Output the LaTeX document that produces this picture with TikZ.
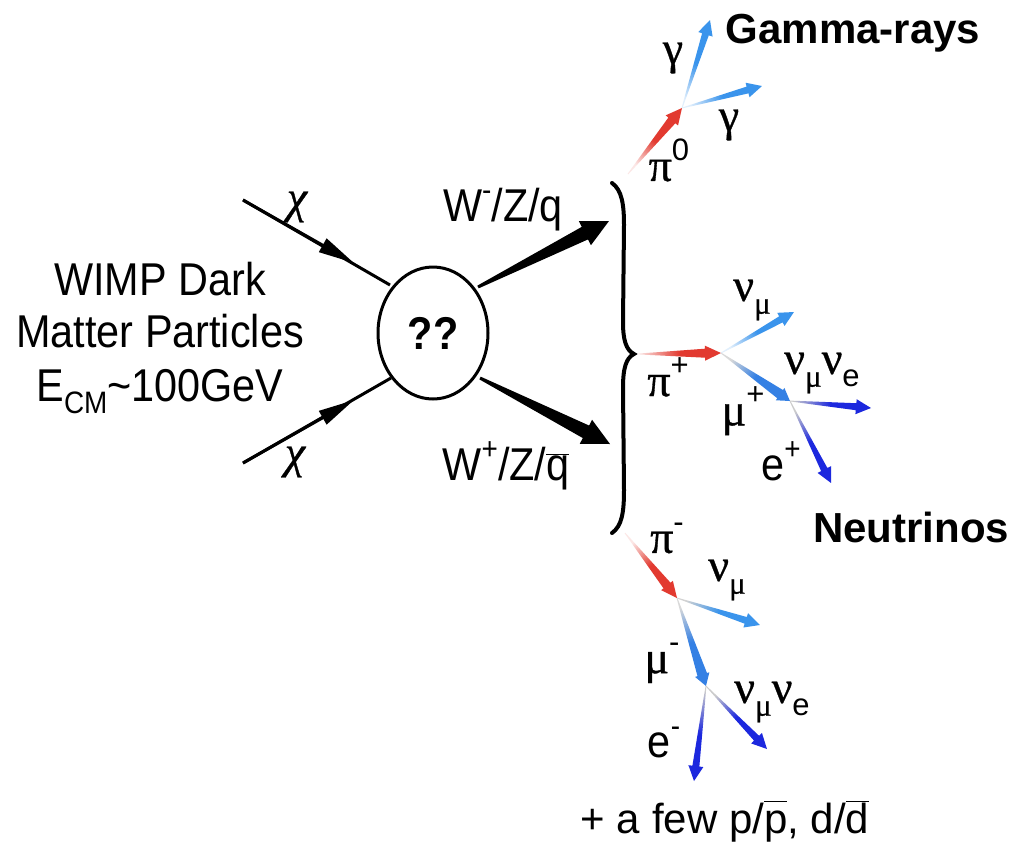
\documentclass[tikz,border=0pt]{standalone}
\usepackage{fontspec}
\setmainfont{Liberation Sans}
\newfontfamily\grk[FakeBold=0.7]{Liberation Serif}
\newfontfamily\grki[FakeBold=0.7]{Liberation Serif Italic}
\usetikzlibrary{arrows.meta,shapes.geometric,calc}

\definecolor{pired}{RGB}{226,58,48}
\definecolor{nublue}{RGB}{58,148,236}
\definecolor{mublue}{RGB}{52,128,228}
\definecolor{eblue}{RGB}{28,40,222}

\newcommand\sx[2][0.9]{\scalebox{#1}[1]{#2}}
\newcommand\gk[1]{{\grk #1}}
\newcommand\gki[1]{{\grki #1}}
\newcommand\upx[1]{\raisebox{0.45em}{\fontsize{31}{31}\selectfont #1}}
\newcommand\dnx[1]{\raisebox{-0.28em}{\fontsize{31}{31}\selectfont #1}}

\newcommand\setarrow[4]{\def\tsw{#1}\def\tbw{#2}\def\thw{#3}\def\thl{#4}}
% #1 from, #2 to, #3 strong colour, #4 faded colour
\newcommand\tarrow[4]{%
  \pgfpointdiff{\pgfpointanchor{#1}{center}}{\pgfpointanchor{#2}{center}}%
  \pgfgetlastxy{\tdx}{\tdy}%
  \pgfmathsetmacro\tlen{veclen(\tdx,\tdy)}%
  \pgfmathsetmacro\tang{atan2(\tdy,\tdx)}%
  \pgfmathsetmacro\tsang{\tang+90}%
  \pgfmathsetmacro\tbase{\tlen-\thl}%
  \shade[top color=#4, bottom color=#3, middle color=#3, shading angle=\tsang,
         shift={(#1)}, rotate=\tang, x=1pt, y=1pt]
    (0,-\tsw) -- (\tbase,-\tbw) -- (\tbase,-\thw) -- (\tlen,0)
    -- (\tbase,\thw) -- (\tbase,\tbw) -- (0,\tsw) -- cycle;
}

\tikzset{
  txt/.style={inner sep=0pt, font=\fontsize{46}{50}\selectfont},
  boldtxt/.style={inner sep=0pt, font=\fontsize{42}{48}\selectfont\bfseries},
  glbl/.style={inner sep=0pt, font=\fontsize{46}{50}\selectfont},
  blob/.style={ellipse, draw, line width=3pt, minimum width=110pt,
               minimum height=132pt, inner sep=0pt},
  chiline/.style={line width=3pt},
  chihead/.style={line width=3pt, -{Triangle[length=36pt,width=15pt]}},
}

\begin{document}
\begin{tikzpicture}[x=1pt,y=-1pt]
\useasboundingbox (0,0) rectangle (1018,847);
\fill[white] (0,0) rectangle (1018,847);

% left text
\node[txt, anchor=base] (t1) at (160,295) {\sx{WIMP Dark}};
\node[txt, anchor=base] (t2) at (160,347) {\sx{Matter Particles}};
\node[txt, anchor=base] (t3) at (160,401) {\sx{E\dnx{CM}\textasciitilde100GeV}};

% central blob
\node[blob] (blob) at (433,333) {\fontsize{46}{50}\selectfont\bfseries\sx{??}};

% incoming chi
\coordinate (chiTs) at (243,200);
\coordinate (chiTm) at (354,263);
\coordinate (chiTe) at (390,285);
\coordinate (chiBs) at (243,463);
\coordinate (chiBm) at (354,400);
\coordinate (chiBe) at (391,378);
\draw[chiline] (chiTs) -- (chiTe);
\draw[chihead] (chiTs) -- (chiTm);
\draw[chiline] (chiBs) -- (chiBe);
\draw[chihead] (chiBs) -- (chiBm);
\node[glbl] (chiT) at (297,207) {\gki{χ}};
\node[glbl] (chiB) at (295,462) {\gki{χ}};

% outgoing W/Z/q
\coordinate (wTs) at (478,287);
\coordinate (wTe) at (609,221);
\coordinate (wBs) at (480,378);
\coordinate (wBe) at (610,444);
\setarrow{1.5}{7}{13.5}{27}
\tarrow{wTs}{wTe}{black}{black}
\tarrow{wBs}{wBe}{black}{black}
\node[txt, anchor=base] (wT) at (503,221) {\sx{W\upx{-}/Z/q}};
\node[txt, anchor=base] (wB) at (506,480) {\sx{W\upx{+}/Z/$\overline{\hbox{q}}$}};

% brace
\draw[line width=4pt, line cap=round]
  (612,183) .. controls (622,190) and (624,205) .. (624,225)
  -- (623,322) .. controls (623,340) and (626,350) .. (634,354)
  .. controls (626,358) and (623,368) .. (623,388)
  -- (624,490) .. controls (624,512) and (622,526) .. (612,533);

% pi0 -> gamma gamma
\coordinate (p0s) at (628,174);
\coordinate (p0v) at (682,108);
\coordinate (g1e) at (710,20);
\coordinate (g2e) at (762,86);
\setarrow{0.4}{4.5}{8}{16}
\tarrow{p0s}{p0v}{pired}{pired!12}
\setarrow{0.4}{3.5}{7.5}{15}
\tarrow{p0v}{g1e}{nublue}{nublue!15}
\tarrow{p0v}{g2e}{nublue}{nublue!15}
\node[glbl] (lg1) at (673,58) {\gk{γ}};
\node[glbl] (lg2) at (729,125) {\gk{γ}};
\node[glbl] (lp0) at (669,160) {\gk{π}\upx{0}};
\node[boldtxt, anchor=base] (gam) at (853,43) {Gamma-rays};

% pi+ chain
\coordinate (pps) at (638,354);
\coordinate (ppv) at (721,353);
\coordinate (ppn) at (794,312);
\coordinate (ppm) at (790,401);
\coordinate (ppnn) at (871,408);
\coordinate (ppe) at (831,483);
\setarrow{0.4}{4.5}{7.5}{16}
\tarrow{pps}{ppv}{pired}{pired!12}
\setarrow{0.4}{3.5}{7.5}{15}
\tarrow{ppv}{ppn}{nublue}{nublue!15}
\setarrow{0.4}{5}{7.5}{12}
\tarrow{ppv}{ppm}{mublue}{gray!30}
\setarrow{0.4}{3.5}{7.5}{15}
\tarrow{ppm}{ppnn}{eblue}{gray!40}
\tarrow{ppm}{ppe}{eblue}{gray!40}
\node[glbl] (lppn) at (752,300) {\gk{ν}\dnx{\gk{μ}}};
\node[glbl] (lppnn) at (822,373) {\gk{ν}\dnx{\gk{μ}}\gk{ν}\dnx{e}};
\node[glbl] (lpp) at (668,377) {\gk{π}\upx{+}};
\node[glbl] (lppm) at (743,411) {\gk{μ}\upx{+}};
\node[txt, anchor=base] (lppe) at (781,480) {\sx{e\upx{+}}};
\node[boldtxt, anchor=base] (neu) at (911,542) {Neutrinos};

% pi- chain
\coordinate (pms) at (625,533);
\coordinate (pmv) at (677,598);
\coordinate (pmn) at (760,625);
\coordinate (pmm) at (706,686);
\coordinate (pmnn) at (767,749);
\coordinate (pme) at (694,781);
\setarrow{0.4}{4.5}{7.5}{16}
\tarrow{pms}{pmv}{pired}{pired!12}
\setarrow{0.4}{3.5}{7.5}{15}
\tarrow{pmv}{pmn}{nublue}{gray!35}
\setarrow{0.4}{5}{7.5}{12}
\tarrow{pmv}{pmm}{mublue}{gray!30}
\setarrow{0.4}{3.5}{7.5}{15}
\tarrow{pmm}{pmnn}{eblue}{gray!40}
\tarrow{pmm}{pme}{eblue}{gray!40}
\node[glbl] (lpm) at (667,538) {\gk{π}\upx{-}};
\node[glbl] (lpmn) at (727,580) {\gk{ν}\dnx{\gk{μ}}};
\node[glbl] (lpmm) at (662,663) {\gk{μ}\upx{-}};
\node[glbl] (lpmnn) at (772,702) {\gk{ν}\dnx{\gk{μ}}\gk{ν}\dnx{e}};
\node[txt, anchor=base] (lpme) at (664,757) {\sx{e\upx{-}}};

% bottom note
\node[inner sep=0pt, font=\fontsize{42}{48}\selectfont, anchor=base] (few) at (725,833)
  {+ a few p/$\overline{\hbox{\vphantom{d}p}}$, d/$\overline{\hbox{d}}$};
\end{tikzpicture}
\end{document}
